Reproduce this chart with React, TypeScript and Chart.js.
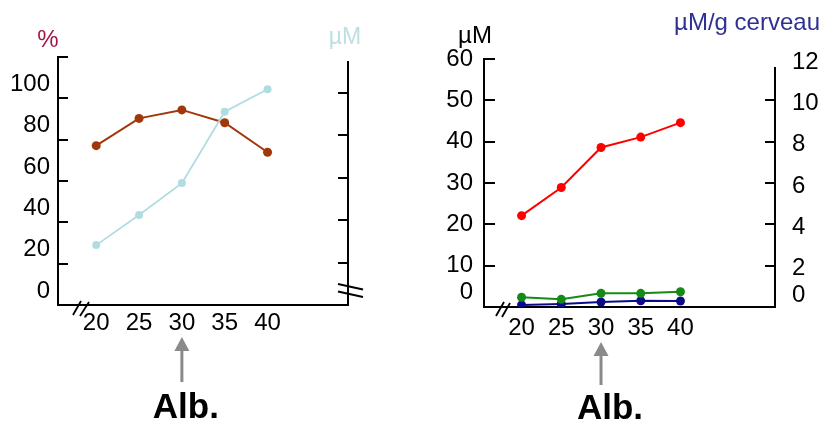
import React, { useEffect, useRef } from "react";
import { Chart, registerables } from "chart.js";

Chart.register(...registerables);

// ---------- data ----------
const temps = [20, 25, 30, 35, 40];
const xTickValues = [20, 25, 30, 35, 40];

// left panel
const pctValues = [77.1, 90.3, 94.4, 88.2, 73.9];
const leftUMValues = [14.1, 21.2, 28.7, 45.5, 50.8];
const pctTickLabels = [0, 20, 40, 60, 80, 100];
const pctTickMarks = [20, 40, 60, 80, 100, 120];
const leftUMTickMarks = [10, 20, 30, 40, 50];

// right panel
const redValues = [22.1, 28.9, 38.6, 41.1, 44.6];
const greenValues = [2.35, 1.86, 3.31, 3.31, 3.7];
const navyValues = [0.1, 0.15, 0.24, 0.3, 0.29];
const uMTickLabels = [0, 10, 20, 30, 40, 50, 60];
const uMTickMarks = [10, 20, 30, 40, 50, 60];
const brainTickLabels = [0, 2, 4, 6, 8, 10, 12];
const brainTickMarks = [2, 4, 6, 8, 10];

const albTemp = 30;
const albLabel = "Alb.";

// ---------- styles ----------
const FONT = "'Liberation Sans', Arial, sans-serif";
const BROWN = "#a0380b";
const LIGHTBLUE = "#b0dde1";
const RED = "#ff0000";
const GREEN = "#158a15";
const NAVY = "#0b0b8a";

type Title = { text: string; x: number; y: number; color: string; size: number; align: CanvasTextAlign };
type DecorCfg = {
  marks: { scale: string; values: number[]; side: "left" | "right"; len: number }[];
  rightAxisTopGap: number;
  breaks: number[][];
  titles: Title[];
  arrowTipY: number;
  arrowBaseY: number;
  textBaseline: number;
  textDx: number;
};

function makeDecor(cfg: DecorCfg) {
  return {
    id: "decor",
    afterDraw(chart: any) {
      const ctx: CanvasRenderingContext2D = chart.ctx;
      const ca = chart.chartArea;
      ctx.save();
      ctx.strokeStyle = "#000";
      ctx.lineWidth = 2;
      // inward tick marks
      cfg.marks.forEach((m) => {
        const sc = chart.scales[m.scale];
        m.values.forEach((v) => {
          const y = Math.round(sc.getPixelForValue(v));
          const x0 = m.side === "left" ? ca.left : ca.right;
          const x1 = m.side === "left" ? ca.left + m.len : ca.right - m.len;
          ctx.beginPath();
          ctx.moveTo(x0, y);
          ctx.lineTo(x1, y);
          ctx.stroke();
        });
      });
      // right axis line
      const rx = Math.round(ca.right);
      ctx.beginPath();
      ctx.moveTo(rx, ca.top + cfg.rightAxisTopGap);
      ctx.lineTo(rx, ca.bottom + 1);
      ctx.stroke();
      // break marks
      ctx.lineWidth = 1.8;
      cfg.breaks.forEach(([x0, y0, x1, y1]) => {
        ctx.beginPath();
        ctx.moveTo(x0, y0);
        ctx.lineTo(x1, y1);
        ctx.stroke();
      });
      // titles
      ctx.textBaseline = "middle";
      cfg.titles.forEach((t) => {
        ctx.font = `${t.size}px ${FONT}`;
        ctx.fillStyle = t.color;
        ctx.textAlign = t.align;
        ctx.fillText(t.text, t.x, t.y);
      });
      // arrow + Alb.
      const ax = chart.scales.x.getPixelForValue(albTemp);
      ctx.fillStyle = "#8a8a8a";
      ctx.strokeStyle = "#8a8a8a";
      ctx.lineWidth = 3;
      ctx.beginPath();
      ctx.moveTo(ax, cfg.arrowTipY + 12);
      ctx.lineTo(ax, cfg.arrowBaseY);
      ctx.stroke();
      ctx.beginPath();
      ctx.moveTo(ax, cfg.arrowTipY);
      ctx.lineTo(ax - 7.5, cfg.arrowTipY + 14);
      ctx.lineTo(ax + 7.5, cfg.arrowTipY + 14);
      ctx.closePath();
      ctx.fill();
      ctx.fillStyle = "#000";
      ctx.font = `bold 35px ${FONT}`;
      ctx.textAlign = "center";
      ctx.textBaseline = "alphabetic";
      ctx.fillText(albLabel, ax + cfg.textDx, cfg.textBaseline);
      ctx.restore();
    },
  };
}

const tickFont = { family: FONT, size: 24 };

function pts(vals: number[]) {
  return temps.map((t, i) => ({ x: t, y: vals[i] }));
}

function lineDs(label: string, vals: number[], color: string, axis: string, width: number, r: number) {
  return {
    label,
    data: pts(vals),
    yAxisID: axis,
    borderColor: color,
    backgroundColor: color,
    borderWidth: width,
    pointRadius: r,
    pointBorderWidth: 0,
    pointBackgroundColor: color,
    tension: 0,
  };
}

function xScale(min: number, max: number, height: number, padding: number) {
  return {
    type: "linear",
    position: "bottom",
    min,
    max,
    afterBuildTicks: (s: any) => {
      s.ticks = xTickValues.map((v) => ({ value: v }));
    },
    afterFit: (s: any) => {
      s.height = height;
    },
    grid: { display: false, drawTicks: false },
    border: { display: true, color: "#000", width: 2 },
    ticks: {
      font: tickFont,
      color: "#000",
      padding,
      maxRotation: 0,
      autoSkip: false,
      callback: (v: any) => String(v),
    },
  };
}

export default function App() {
  const ref1 = useRef<HTMLCanvasElement>(null);
  const ref2 = useRef<HTMLCanvasElement>(null);

  useEffect(() => {
    const c1 = new Chart(ref1.current as HTMLCanvasElement, {
      type: "line",
      data: {
        datasets: [
          lineDs("µM", leftUMValues, LIGHTBLUE, "y2", 1.8, 4),
          lineDs("%", pctValues, BROWN, "y", 2, 4.5),
        ] as any,
      },
      options: {
        responsive: false,
        animation: false,
        devicePixelRatio: 1,
        layout: { padding: { top: 57, left: 0, right: 0, bottom: 0 } },
        plugins: { legend: { display: false }, tooltip: { enabled: false } },
        scales: {
          x: xScale(15.54, 49.39, 116, 4),
          y: {
            type: "linear",
            position: "left",
            min: 0,
            max: 120,
            afterBuildTicks: (s: any) => {
              s.ticks = pctTickLabels.map((v) => ({ value: v }));
            },
            afterFit: (s: any) => {
              s.width = 58;
            },
            grid: { display: false, drawTicks: false },
            border: { display: true, color: "#000", width: 2 },
            ticks: {
              font: tickFont,
              color: "#000",
              padding: 8,
              labelOffset: -14,
              autoSkip: false,
              callback: (v: any) => String(v),
            },
          },
          y2: {
            type: "linear",
            position: "right",
            min: 0,
            max: 58.4,
            afterFit: (s: any) => {
              s.width = 476;
            },
            grid: { display: false, drawTicks: false },
            border: { display: false },
            ticks: { display: false },
          },
        } as any,
      },
      plugins: [
        makeDecor({
          marks: [
            { scale: "y", values: pctTickMarks, side: "left", len: 10 },
            { scale: "y2", values: leftUMTickMarks, side: "right", len: 10 },
          ],
          rightAxisTopGap: 4,
          breaks: [
            [73, 315, 81, 301],
            [80, 316, 89, 302],
            [338, 284, 363, 289.5],
            [338, 291.5, 363, 297],
          ],
          titles: [
            { text: "%", x: 48, y: 40, color: "#a3154a", size: 24, align: "center" },
            { text: "µM", x: 345, y: 38, color: "#bcdfe3", size: 23, align: "center" },
          ],
          arrowTipY: 337,
          arrowBaseY: 382,
          textBaseline: 418,
          textDx: 4,
        }),
      ],
    });

    const c2 = new Chart(ref2.current as HTMLCanvasElement, {
      type: "line",
      data: {
        datasets: [
          lineDs("µM", redValues, RED, "y", 2, 4.5),
          lineDs("µM (vert)", greenValues, GREEN, "y", 2, 4.5),
          lineDs("µM/g cerveau", navyValues, NAVY, "y2", 2, 4.5),
        ] as any,
      },
      options: {
        responsive: false,
        animation: false,
        devicePixelRatio: 1,
        layout: { padding: { top: 59, left: 0, right: 0, bottom: 0 } },
        plugins: { legend: { display: false }, tooltip: { enabled: false } },
        scales: {
          x: xScale(15.27, 51.9, 114, 7),
          y: {
            type: "linear",
            position: "left",
            min: 0,
            max: 60,
            afterBuildTicks: (s: any) => {
              s.ticks = uMTickLabels.map((v) => ({ value: v }));
            },
            afterFit: (s: any) => {
              s.width = 484;
            },
            grid: { display: false, drawTicks: false },
            border: { display: true, color: "#000", width: 2 },
            ticks: {
              font: tickFont,
              color: "#000",
              padding: 11,
              autoSkip: false,
              callback: (v: any) => (v === 0 ? ["0", ""] : String(v)),
            },
          },
          y2: {
            type: "linear",
            position: "right",
            min: 0,
            max: 12,
            afterBuildTicks: (s: any) => {
              s.ticks = brainTickLabels.map((v) => ({ value: v }));
            },
            afterFit: (s: any) => {
              s.width = 49;
            },
            grid: { display: false, drawTicks: false },
            border: { display: false },
            ticks: {
              font: tickFont,
              color: "#000",
              padding: 17,
              labelOffset: 3,
              autoSkip: false,
              callback: (v: any) => (v === 0 ? ["0", ""] : String(v)),
            },
          },
        } as any,
      },
      plugins: [
        makeDecor({
          marks: [
            { scale: "y", values: uMTickMarks, side: "left", len: 11 },
            { scale: "y2", values: brainTickMarks, side: "right", len: 10 },
          ],
          rightAxisTopGap: 8,
          breaks: [
            [496, 316, 504, 302],
            [502, 317, 510, 303],
          ],
          titles: [
            { text: "µM", x: 475, y: 36, color: "#000", size: 24, align: "center" },
            { text: "µM/g cerveau", x: 820, y: 23, color: "#2e3192", size: 24, align: "right" },
          ],
          arrowTipY: 342,
          arrowBaseY: 385,
          textBaseline: 419,
          textDx: 9,
        }),
      ],
    });

    return () => {
      c1.destroy();
      c2.destroy();
    };
  }, []);

  const cs: React.CSSProperties = { position: "absolute", left: 0, top: 0 };
  return (
    <div style={{ position: "fixed", left: 0, top: 0, width: 824, height: 421, background: "#fff", overflow: "hidden" }}>
      <canvas ref={ref1} width={824} height={421} style={cs} />
      <canvas ref={ref2} width={824} height={421} style={cs} />
    </div>
  );
}
